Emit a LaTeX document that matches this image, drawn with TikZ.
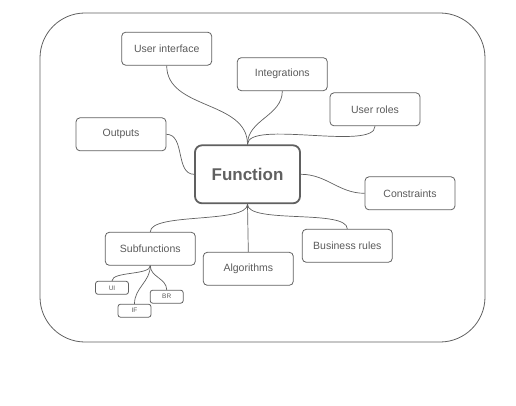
\documentclass[tikz,border=0pt]{standalone}
\usepackage{fontspec}
\setmainfont{Liberation Sans}
\begin{document}
\begin{tikzpicture}[x=1pt,y=-1pt,
  box/.style={draw=linec, line width=0.8pt, rounded corners=4pt, minimum width=90pt, minimum height=33pt, inner sep=0pt, text=textc, font=\fontsize{10.5}{12}\selectfont},
  tiny/.style={draw=linec, line width=0.8pt, rounded corners=2.5pt, minimum width=33pt, minimum height=13pt, inner sep=0pt, text=textc, font=\fontsize{6.5}{7}\selectfont},
  main/.style={draw=mainc, line width=1.8pt, rounded corners=7pt, minimum width=105pt, minimum height=58pt, inner sep=0pt, text=mainc, font=\fontsize{17}{20}\selectfont\bfseries},
  link/.style={draw=linec, line width=0.7pt}]
\definecolor{linec}{HTML}{606060}
\definecolor{textc}{HTML}{5A5A5A}
\definecolor{mainc}{HTML}{606060}
\useasboundingbox (0,0) rectangle (516,406);
\node[draw=linec, line width=0.8pt, rounded corners=45pt, minimum width=445pt, minimum height=329pt, inner sep=0pt] (frame) at (262.5,177.5) {};
\node[main] (f) at (247.5,174.3) {Function};
\node[box] (ui) at (166.7,48.7) {User interface};
\node[box] (int) at (282.3,74.2) {Integrations};
\node[box] (roles) at (375,109.3) {User roles};
\node[box] (out) at (121,134.3) {Outputs};
\node[box] (con) at (410,193.3) {Constraints};
\node[box] (sub) at (150.3,248.8) {Subfunctions};
\node[box] (alg) at (248.3,268.8) {Algorithms};
\node[box] (bus) at (347.3,245.8) {Business rules};
\node[tiny] (sui) at (112,287.8) {UI};
\node[tiny] (sif) at (134.5,310.7) {IF};
\node[tiny] (sbr) at (166.7,296.7) {BR};
\draw[link] (ui.south) to[out=-90,in=90] (f.north);
\draw[link] (int.south) to[out=-90,in=90] (f.north);
\draw[link] (roles.south) to[out=-90,in=90,looseness=0.5] (f.north);
\draw[link] (out.east) to[out=0,in=180] (f.west);
\draw[link] (f.east) to[out=0,in=180] (con.west);
\draw[link] (f.south) to[out=-90,in=90,looseness=0.5] (sub.north);
\draw[link] (f.south) -- (alg.north);
\draw[link] (f.south) to[out=-90,in=90,looseness=0.5] (bus.north);
\draw[link] (sub.south) to[out=-90,in=90,looseness=0.6] (sui.north);
\draw[link] (sub.south) to[out=-90,in=90] (sif.north);
\draw[link] (sub.south) to[out=-90,in=90] (sbr.north);
\end{tikzpicture}
\end{document}
